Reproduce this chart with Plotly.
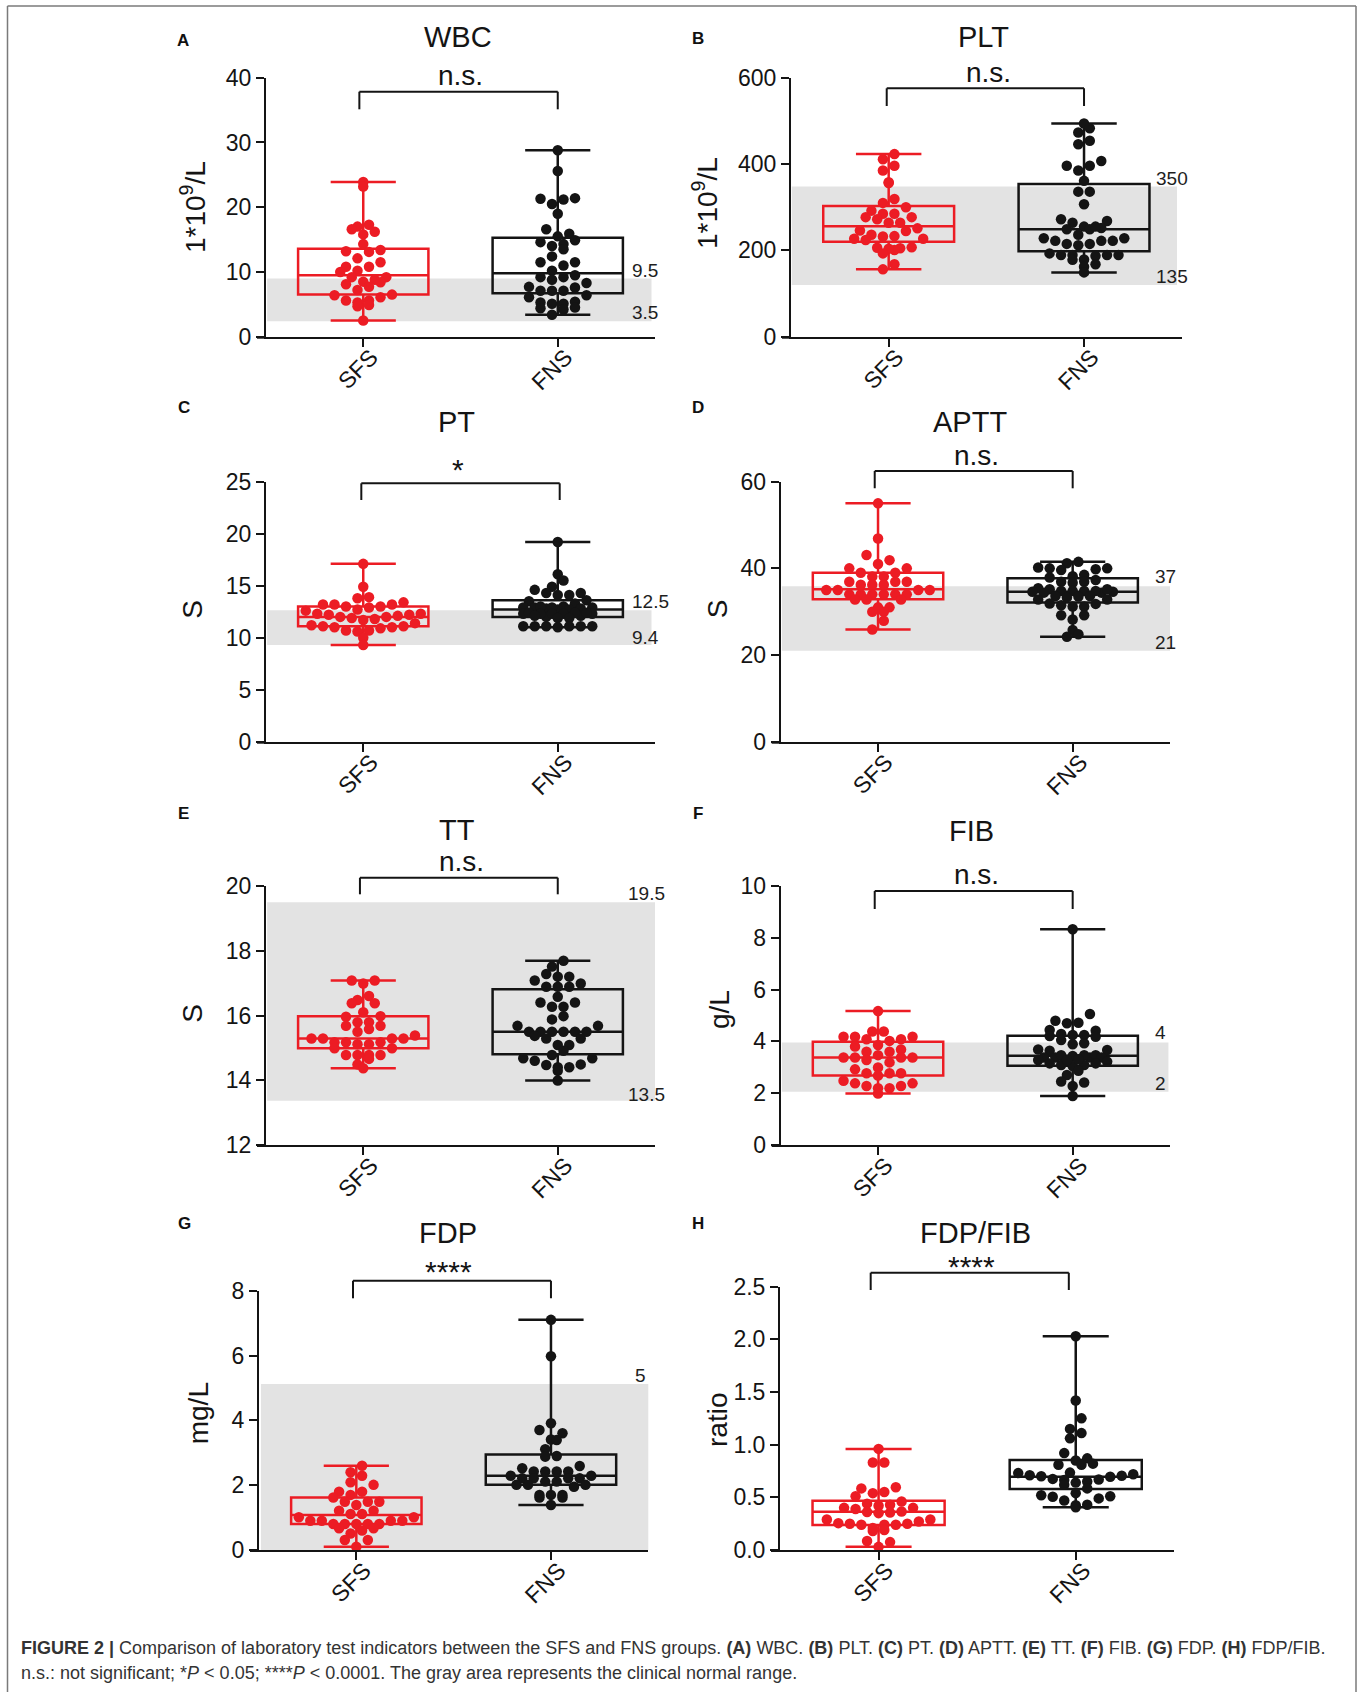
import numpy as np
import plotly.graph_objects as go

W, H = 1363, 1692
FONT = "Liberation Sans, Arial, Helvetica, sans-serif"
INK = "#141414"
RED = "#ec1c24"
BAND = "#e3e3e3"

groups = ["SFS", "FNS"]

# ------------------------------------------------------------------ data
wbc_sfs = [23.9, 23.2, 17.3, 17.0, 16.6, 16.2, 15.8, 14.3, 13.4, 13.1, 13.2, 12.1, 11.5, 10.8, 10.8, 10.2,
           10.0, 9.2, 9.2, 8.5, 8.8, 8.4, 8.1, 7.7, 7.2, 6.5, 6.4, 6.1, 5.6, 5.6, 5.3, 4.9, 4.7, 2.5]
wbc_fns = [28.8, 25.6, 21.4, 21.3, 21.2, 20.5, 19.0, 16.6, 15.9, 15.5, 14.9, 14.6, 14.3, 14.0, 13.5, 12.4,
           11.5, 11.5, 11.0, 10.2, 9.5, 9.2, 9.2, 8.8, 8.3, 7.6, 7.7, 7.1, 7.1, 7.1, 6.4, 6.1, 5.1, 5.3,
           5.4, 5.1, 4.4, 4.2, 4.5, 3.4]
wbc_quartiles = [[6.5, 9.5, 13.6], [6.7, 9.8, 15.3]]
wbc_band = [2.4, 9.0]
wbc_band_labels = ["9.5", "3.5"]
wbc_ticks = [0, 10, 20, 30, 40]

plt_sfs = [423, 411, 396, 385, 356, 358, 319, 310, 300, 292, 285, 285, 277, 277, 272, 264, 264, 251, 245,
           246, 233, 232, 236, 227, 224, 227, 207, 205, 206, 201, 204, 193, 168, 156]
plt_fns = [494, 483, 473, 454, 446, 407, 396, 396, 385, 361, 336, 336, 307, 272, 268, 264, 255, 249, 249,
           252, 255, 236, 228, 228, 222, 222, 222, 215, 212, 215, 193, 189, 189, 187, 189, 189, 179, 178,
           168, 162, 149]
plt_quartiles = [[220, 256, 303], [198, 249, 354]]
plt_band = [120, 348]
plt_band_labels = ["350", "135"]
plt_ticks = [0, 200, 400, 600]

pt_sfs = [17.1, 14.9, 13.8, 13.9, 13.2, 13.2, 13.0, 13.2, 13.4, 12.9, 13.0, 12.6, 12.7, 12.3, 12.2, 12.0,
          11.9, 11.7, 11.8, 12.0, 12.1, 12.2, 12.3, 11.4, 11.1, 11.0, 11.0, 10.7, 10.6, 10.7, 10.9, 11.1,
          11.2, 10.0, 9.3]
pt_fns = [19.2, 16.1, 15.5, 14.9, 14.6, 14.3, 14.1, 14.1, 14.3, 13.5, 13.6, 13.3, 13.0, 12.9, 12.9, 12.8,
          12.7, 12.7, 12.8, 12.9, 12.9, 13.0, 12.1, 12.0, 12.3, 12.3, 12.4, 12.3, 12.4, 12.4, 12.3, 12.3,
          12.1, 11.9, 11.9, 11.1, 11.1, 11.1, 11.1, 11.1, 11.1, 11.0]
pt_quartiles = [[11.1, 12.0, 13.0], [12.0, 12.7, 13.6]]
pt_band = [9.3, 12.65]
pt_band_labels = ["12.5", "9.4"]
pt_ticks = [0, 5, 10, 15, 20, 25]

aptt_sfs = [55.0, 46.9, 43.1, 41.9, 41.0, 40.0, 40.0, 39.0, 39.0, 38.1, 38.1, 36.9, 36.9, 36.9, 36.2, 36.2,
            36.2, 35.0, 35.0, 35.0, 35.0, 34.0, 34.0, 34.0, 34.0, 34.0, 34.0, 32.8, 32.8, 32.8, 31.0, 31.0,
            30.0, 30.0, 27.9, 25.9]
aptt_fns = [41.2, 41.5, 40.0, 40.0, 39.6, 39.8, 40.2, 38.5, 37.9, 38.2, 36.9, 36.7, 36.9, 37.3, 35.4, 35.2,
            34.8, 34.4, 34.4, 34.6, 34.6, 34.8, 34.8, 34.8, 35.2, 33.5, 32.8, 33.6, 33.6, 32.8, 33.3, 31.9,
            31.5, 31.2, 31.2, 31.8, 29.2, 29.2, 28.2, 25.8, 24.8, 24.2]
aptt_quartiles = [[32.9, 35.2, 39.0], [32.1, 34.6, 37.7]]
aptt_band = [21.0, 35.9]
aptt_band_labels = ["37", "21"]
aptt_ticks = [0, 20, 40, 60]

tt_sfs = [17.08, 17.08, 16.99, 16.60, 16.48, 16.38, 16.38, 16.10, 15.96, 15.98, 15.79, 15.79, 15.68, 15.68,
          15.58, 15.50, 15.38, 15.29, 15.29, 15.29, 15.29, 15.17, 15.17, 15.17, 15.11, 15.11, 14.99, 14.99,
          14.78, 14.78, 14.78, 14.78, 14.66, 14.49, 14.37]
tt_fns = [17.69, 17.51, 17.28, 17.20, 17.20, 17.08, 16.99, 16.89, 16.89, 16.89, 16.58, 16.40, 16.40, 16.27,
          16.27, 15.98, 15.88, 15.68, 15.68, 15.50, 15.50, 15.50, 15.50, 15.50, 15.50, 15.37, 15.29, 15.29,
          15.09, 15.09, 14.91, 14.78, 14.68, 14.68, 14.60, 14.47, 14.49, 14.40, 14.40, 14.29, 13.99]
tt_quartiles = [[14.99, 15.29, 15.98], [14.80, 15.50, 16.81]]
tt_band = [13.37, 19.5]
tt_band_labels = ["19.5", "13.5"]
tt_ticks = [12, 14, 16, 18, 20]

fib_sfs = [5.17, 4.38, 4.38, 4.18, 4.18, 4.08, 4.02, 4.08, 4.18, 3.86, 3.80, 3.69, 3.60, 3.60, 3.38, 3.38,
           3.28, 3.47, 3.38, 3.38, 3.19, 2.99, 2.92, 2.77, 2.77, 2.77, 2.68, 2.48, 2.38, 2.38, 2.28, 2.28,
           2.19, 2.19, 1.99]
fib_fns = [8.33, 5.06, 4.72, 4.70, 4.80, 4.44, 4.41, 4.25, 4.29, 4.18, 4.21, 4.25, 4.05, 3.93, 3.89, 3.69,
           3.67, 3.64, 3.38, 3.38, 3.47, 3.44, 3.47, 3.47, 3.38, 3.38, 3.28, 3.22, 3.15, 3.09, 3.05, 3.09,
           3.15, 3.28, 3.31, 2.87, 2.70, 2.45, 2.41, 2.28, 1.89]
fib_quartiles = [[2.68, 3.38, 3.99], [3.06, 3.45, 4.22]]
fib_band = [2.06, 3.96]
fib_band_labels = ["4", "2"]
fib_ticks = [0, 2, 4, 6, 8, 10]

fdp_sfs = [2.60, 2.40, 2.29, 2.09, 2.01, 1.80, 1.80, 1.70, 1.62, 1.49, 1.49, 1.49, 1.39, 1.21, 1.21, 1.11,
           1.11, 1.01, 1.01, 0.90, 0.90, 0.90, 0.90, 0.80, 0.80, 0.80, 0.80, 0.80, 0.67, 0.67, 0.60, 0.51,
           0.31, 0.31, 0.10]
fdp_fns = [7.10, 5.98, 3.91, 3.60, 3.70, 3.41, 3.39, 3.11, 2.90, 2.88, 2.59, 2.52, 2.42, 2.42, 2.42, 2.42,
           2.29, 2.29, 2.21, 2.21, 2.21, 2.21, 2.11, 2.11, 2.01, 2.01, 1.95, 2.01, 1.70, 1.70, 1.70, 1.62,
           1.62, 1.39]
fdp_quartiles = [[0.80, 1.08, 1.62], [2.01, 2.29, 2.95]]
fdp_band = [0.0, 5.12]
fdp_band_labels = ["5"]
fdp_ticks = [0, 2, 4, 6, 8]

ratio_sfs = [0.96, 0.83, 0.83, 0.55, 0.585, 0.595, 0.54, 0.51, 0.46, 0.43, 0.40, 0.39, 0.40, 0.42, 0.44,
             0.36, 0.35, 0.355, 0.365, 0.29, 0.27, 0.29, 0.25, 0.24, 0.24, 0.24, 0.25, 0.255, 0.19, 0.18,
             0.21, 0.085, 0.075, 0.03]
ratio_fns = [2.03, 1.42, 1.25, 1.15, 1.11, 1.06, 0.92, 0.85, 0.87, 0.81, 0.81, 0.82, 0.73, 0.71, 0.70, 0.72,
             0.735, 0.67, 0.665, 0.675, 0.695, 0.705, 0.62, 0.65, 0.64, 0.585, 0.54, 0.52, 0.505, 0.51, 0.49,
             0.47, 0.43, 0.425, 0.405]
ratio_quartiles = [[0.237, 0.364, 0.468], [0.579, 0.696, 0.854]]
ratio_band = None
ratio_band_labels = []
ratio_ticks = [0, 0.5, 1.0, 1.5, 2.0, 2.5]

panel_letters = ["A", "B", "C", "D", "E", "F", "G", "H"]
titles = ["WBC", "PLT", "PT", "APTT", "TT", "FIB", "FDP", "FDP/FIB"]
units = ["1*10<sup>9</sup>/L", "1*10<sup>9</sup>/L", "S", "S", "S", "g/L", "mg/L", "ratio"]
significance = ["n.s.", "n.s.", "*", "n.s.", "n.s.", "n.s.", "****", "****"]
y_ranges = [[0, 40], [0, 600], [0, 25], [0, 60], [12, 20], [0, 10], [0, 8], [0, 2.5]]

panels = [
    (wbc_sfs, wbc_fns, wbc_quartiles, wbc_band, wbc_band_labels, wbc_ticks),
    (plt_sfs, plt_fns, plt_quartiles, plt_band, plt_band_labels, plt_ticks),
    (pt_sfs, pt_fns, pt_quartiles, pt_band, pt_band_labels, pt_ticks),
    (aptt_sfs, aptt_fns, aptt_quartiles, aptt_band, aptt_band_labels, aptt_ticks),
    (tt_sfs, tt_fns, tt_quartiles, tt_band, tt_band_labels, tt_ticks),
    (fib_sfs, fib_fns, fib_quartiles, fib_band, fib_band_labels, fib_ticks),
    (fdp_sfs, fdp_fns, fdp_quartiles, fdp_band, fdp_band_labels, fdp_ticks),
    (ratio_sfs, ratio_fns, ratio_quartiles, ratio_band, ratio_band_labels, ratio_ticks),
]

# ------------------------------------------------------------------ geometry (pixels)
geom = [
    dict(x=(266, 655), y=(77.7, 336.7), letter=(183.5, 40), title=(457.7, 46.7), sig=(460, 85),
         bracket=(91.7, 109.3), bx=(-0.02, 1.0), ylab=(193, 207), band_x=(0.003, 0.991),
         band_lab=[(645, 270.7), (645, 312.7)]),
    dict(x=(791, 1181.7), y=(77.7, 336.7), letter=(698.3, 38.3), title=(983.3, 46.7), sig=(988.3, 81.7),
         bracket=(88.3, 106), bx=(-0.01, 1.0), ylab=(705, 203), band_x=(0.002, 0.988),
         band_lab=[(1171.7, 178.3), (1171.7, 276)]),
    dict(x=(266, 655), y=(481.7, 741.7), letter=(184, 407.3), title=(456.7, 432.3), sig=(457.7, 480),
         bracket=(483.3, 500), bx=(-0.01, 1.01), ylab=(192.5, 609.3), band_x=(0.003, 0.991),
         band_lab=[(650, 601.7), (645, 637.3)]),
    dict(x=(780.7, 1170), y=(481.7, 741.7), letter=(698.3, 407.3), title=(970, 432.3), sig=(976.7, 465),
         bracket=(471, 488.3), bx=(-0.017, 1.0), ylab=(717, 609.3), band_x=(0.003, 1.0),
         band_lab=[(1165, 576.7), (1165, 642.7)]),
    dict(x=(266, 655), y=(886, 1145), letter=(183.5, 813.7), title=(456.7, 840), sig=(461.7, 870.7),
         bracket=(877.7, 894.3), bx=(-0.017, 1.0), ylab=(192.5, 1013.3), band_x=(0.003, 1.0),
         band_lab=[(646.7, 893.3), (646.7, 1094)]),
    dict(x=(780.7, 1170), y=(886, 1145), letter=(698, 813.7), title=(971.7, 840.7), sig=(976.7, 884),
         bracket=(891, 909), bx=(-0.017, 1.0), ylab=(719, 1010), band_x=(0.003, 0.996),
         band_lab=[(1160, 1032.7), (1160, 1083.3)]),
    dict(x=(259, 648.3), y=(1290.7, 1550), letter=(184, 1223.3), title=(448.3, 1243.3), sig=(448.3, 1282),
         bracket=(1280.7, 1298.3), bx=(-0.017, 1.0), ylab=(198, 1413.3), band_x=(0.005, 1.0),
         band_lab=[(640, 1375.7)]),
    dict(x=(780, 1174.3), y=(1286.7, 1550), letter=(698.3, 1223.3), title=(975, 1243.3), sig=(971.7, 1277),
         bracket=(1272.7, 1290), bx=(-0.04, 0.965), ylab=(717, 1420), band_x=None, band_lab=[]),
]

ROW_H = 11.0     # px height of a dot row (GraphPad-like scatter layout)
MAX_IN_ROW = 12  # crowded rows are split into sub-rows
SLOT = 11.5      # px between dot centres within a row
DOT = 10.5


def dot_rows(values, px_per_unit, r0):
    """Horizontal offsets (px): values grouped into rows, spread symmetrically (lowest in the middle)."""
    vals = np.asarray(values, float)
    rows = np.floor((vals - r0) * px_per_unit / ROW_H).astype(int)
    xs = np.zeros(len(vals))
    for r in np.unique(rows):
        idx = np.where(rows == r)[0]
        idx = idx[np.argsort(vals[idx], kind="stable")]
        parts = int(np.ceil(len(idx) / MAX_IN_ROW))
        for sub in np.array_split(idx, parts):
            n = len(sub)
            if n % 2:
                slots = [0.0] + [s for k in range(1, n) for s in (k, -k)]
            else:
                slots = [s for k in range(n) for s in (-(k + 0.5), k + 0.5)]
            for j, ii in enumerate(sub):
                xs[ii] = slots[j] * SLOT
    return xs


def px(xp):
    return xp / W


def py(yp):
    return 1 - yp / H


fig = go.Figure()
shapes = []
annotations = []
layout_axes = {}


def text_base(text, x, base, size, bold=False, color=INK, xanchor="center"):
    annotations.append(dict(
        text=f"<b>{text}</b>" if bold else text, x=px(x), y=py(base + 0.212 * size),
        xref="paper", yref="paper", xanchor=xanchor, yanchor="bottom", showarrow=False,
        borderpad=0, borderwidth=0, font=dict(family=FONT, size=size, color=color)))


def text_mid(text, x, y, size, bold=False, color=INK, angle=0):
    annotations.append(dict(
        text=f"<b>{text}</b>" if bold else text, x=px(x), y=py(y), xref="paper", yref="paper",
        xanchor="center", yanchor="middle", showarrow=False, textangle=angle,
        borderpad=0, borderwidth=0, font=dict(family=FONT, size=size, color=color)))


for i, (data, g) in enumerate(zip(panels, geom), start=1):
    sfs, fns, quart, band, band_labels, ticks = data
    sfx = "" if i == 1 else str(i)
    xa, ya = "x" + sfx, "y" + sfx
    xl, xr = g["x"]
    yt, yb = g["y"]
    r0, r1 = y_ranges[i - 1]
    ypu = (yb - yt) / (r1 - r0)
    xpu = (xr - xl) / 2.0

    # normal range band
    if band is not None:
        shapes.append(dict(type="rect", xref=f"{xa} domain", yref=ya, x0=g["band_x"][0], x1=g["band_x"][1],
                           y0=band[0], y1=band[1], fillcolor=BAND, line=dict(width=0), layer="below"))
    for lab, (lx, ly) in zip(band_labels, g["band_lab"]):
        text_mid(lab, lx, ly, 19, color="#1e1e1e")

    for k, (vals, col) in enumerate([(sfs, RED), (fns, INK)]):
        q1, med, q3 = quart[k]
        fig.add_trace(go.Box(
            x=[k], q1=[q1], median=[med], q3=[q3], lowerfence=[min(vals)], upperfence=[max(vals)],
            orientation="v", width=0.67, whiskerwidth=0.5, boxpoints=False,
            line=dict(color=col, width=2.5), fillcolor="rgba(0,0,0,0)",
            xaxis=xa, yaxis=ya, showlegend=False, hoverinfo="skip"))
        offs = dot_rows(vals, ypu, r0) / xpu
        fig.add_trace(go.Scatter(
            x=k + offs, y=vals, mode="markers", marker=dict(size=DOT, color=col, line=dict(width=0)),
            cliponaxis=False, xaxis=xa, yaxis=ya, showlegend=False, hoverinfo="skip"))

    layout_axes["xaxis" + sfx] = dict(
        domain=[px(xl), px(xr)], anchor=ya, range=[-0.5, 1.5], tickmode="array", tickvals=[0, 1],
        ticktext=groups, tickangle=-45, showline=True, linewidth=2, linecolor=INK, ticks="outside",
        ticklen=8, tickwidth=2, tickcolor=INK, showgrid=False, zeroline=False, fixedrange=True,
        automargin=False, ticklabelstandoff=-12, ticklabelshift=8,
        tickfont=dict(family=FONT, size=23, color=INK))
    layout_axes["yaxis" + sfx] = dict(
        domain=[py(yb), py(yt)], anchor=xa, range=[r0, r1], tickmode="array", tickvals=ticks,
        tickformat=".1f" if i == 8 else None, showline=True, linewidth=2, linecolor=INK,
        ticks="outside", ticklen=8, tickwidth=2, tickcolor=INK, showgrid=False, zeroline=False,
        fixedrange=True, automargin=False, tickfont=dict(family=FONT, size=23, color=INK))

    # x axis line extends left past y axis (GraphPad style)
    shapes.append(dict(type="line", xref=f"{xa} domain", yref=f"{ya} domain",
                       x0=-9 / (xr - xl), x1=0, y0=-1 / (yb - yt), y1=-1 / (yb - yt),
                       line=dict(color=INK, width=2)))

    # significance bracket
    bt, bb = g["bracket"]
    dt = (yb - bt) / (yb - yt)
    db = (yb - bb) / (yb - yt)
    bxl, bxr = g["bx"]
    for (x0, y0, x1, y1) in [(bxl, db, bxl, dt), (bxl, dt, bxr, dt), (bxr, dt, bxr, db)]:
        shapes.append(dict(type="line", xref=xa, yref=f"{ya} domain", x0=x0, x1=x1, y0=y0, y1=y1,
                           line=dict(color=INK, width=2)))

    sig = significance[i - 1]
    text_base(sig, g["sig"][0], g["sig"][1], 30 if "*" in sig else 28)
    text_base(titles[i - 1], g["title"][0], g["title"][1], 29)
    text_mid(panel_letters[i - 1], g["letter"][0], g["letter"][1], 17, bold=True, color="#111")
    text_mid(units[i - 1], g["ylab"][0], g["ylab"][1], 28, angle=-90)

# frame around the figure
FR = "#7a7a7a"
shapes += [
    dict(type="line", xref="paper", yref="paper", x0=px(7.5), x1=px(7.5), y0=py(6), y1=py(H + 5),
         line=dict(color=FR, width=1.5)),
    dict(type="line", xref="paper", yref="paper", x0=px(7.5), x1=px(1356), y0=py(6), y1=py(6),
         line=dict(color=FR, width=1.5)),
    dict(type="line", xref="paper", yref="paper", x0=px(1356), x1=px(1356), y0=py(6), y1=py(H + 5),
         line=dict(color=FR, width=1.5)),
]

caption1 = ("<b>FIGURE 2 |</b> Comparison of laboratory test indicators between the SFS and FNS groups. "
            "<b>(A)</b> WBC. <b>(B)</b> PLT. <b>(C)</b> PT. <b>(D)</b> APTT. <b>(E)</b> TT. "
            "<b>(F)</b> FIB. <b>(G)</b> FDP. <b>(H)</b> FDP/FIB.")
caption2 = ("n.s.: not significant; *<i>P</i> &lt; 0.05; ****<i>P</i> &lt; 0.0001. "
            "The gray area represents the clinical normal range.")
text_base(caption1, 21, 1654.5, 18, color="#333333", xanchor="left")
text_base(caption2, 21, 1679, 18, color="#333333", xanchor="left")

fig.update_layout(
    width=W, height=H, margin=dict(l=0, r=0, t=0, b=0, pad=0, autoexpand=False), autosize=False,
    paper_bgcolor="white", plot_bgcolor="rgba(0,0,0,0)", showlegend=False,
    boxmode="overlay", shapes=shapes, annotations=annotations, **layout_axes)

fig.write_html("out.html", config={"displayModeBar": False},
               post_script="document.body.style.margin='0px';document.body.style.overflow='hidden';")
